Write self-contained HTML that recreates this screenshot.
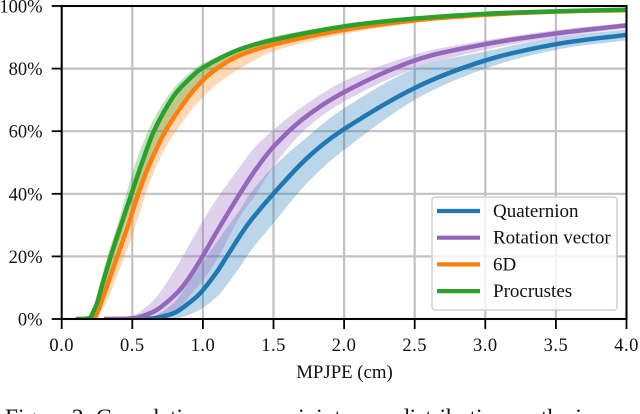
<!DOCTYPE html>
<html lang="en">
<head>
<meta charset="utf-8">
<title>MPJPE cumulative distribution</title>
<style>
html,body{margin:0;padding:0;background:#fff}
body{width:640px;height:414px;overflow:hidden;position:relative}
svg{display:block;position:absolute;left:0;top:0}
text{font-family:"Liberation Serif",serif;fill:#111}
#caption-clip{position:absolute;left:0;top:400px;width:640px;height:14px;overflow:hidden}
#caption{position:absolute;left:5px;top:3.6px;white-space:nowrap;font:23.4px/28px "Liberation Serif",serif;color:#111}
</style>
</head>
<body>
<svg id="chart" width="640" height="400" viewBox="0 0 640 400" xmlns="http://www.w3.org/2000/svg">
<defs><clipPath id="plot-clip"><rect x="61.7" y="6" width="564.8" height="313"/></clipPath></defs>
<g id="grid"></g>
<g id="series" clip-path="url(#plot-clip)"></g>
<g id="axes"></g>
<g id="legend"></g>
<text x="344.5" y="378" text-anchor="middle" font-size="18.8">MPJPE (cm)</text>
</svg>
<div id="caption-clip"><div id="caption">Figure 2: Cumulative error per joint error distribution on the in</div></div>
<script>
const xTicks = ['0.0','0.5','1.0','1.5','2.0','2.5','3.0','3.5','4.0'];
const yTicks = ['0%','20%','40%','60%','80%','100%'];
const legendLabels = ['Quaternion','Rotation vector','6D','Procrustes'];
const seriesColors = ['#1f77b4','#9467bd','#ff7f0e','#2ca02c'];

const quatX = [0.55,0.66,0.79,0.86,0.98,1.098,1.168,1.263,1.334,1.499,1.735,1.971,2.5,3.0,3.5,4.0];
const quatY = [0,0.3,1.8,3.7,8.2,15,19.9,26.6,31.2,40,51.3,59.8,73.8,82.6,87.8,90.8];
const quatLow = [0,0,0.2,0.7,3,7.1,10.8,16.7,21.5,30.6,43.3,53,70,80,86,89];
const quatHigh = [0,1,5,9,17,24.5,29,35,40,48.7,58,66.5,80,85.5,90,92.5];

const rotX = [0.3,0.5,0.555,0.673,0.814,0.9,1.003,1.1,1.263,1.37,1.499,1.711,2.0,2.5,3.0,3.5,4.0];
const rotY = [0,0.2,0.7,2.9,8.2,13,20.4,28,40.1,47.5,55,64,72.5,82.6,87.8,91.2,93.8];
const rotLow = [0,0,0.1,0.6,2.9,7,12.5,19,32.7,39.5,48.7,60,69.5,80,86,90,92.8];
const rotHigh = [0,1,2.3,7.1,16.7,23.5,31.6,38.5,48.7,55,60.4,68,76,84.5,89,92.3,94.6];

const sixDX = [0.2,0.235,0.255,0.319,0.394,0.467,0.55,0.625,0.739,0.897,1.003,1.098,1.25,1.5,2.0,2.5,3.0,3.5,4.0];
const sixDY = [0,0.4,2.3,10.3,20,29.5,41,49.8,60.4,71,76.4,80,84,87.7,92.4,95.4,97.2,98.2,98.7];
const sixDLow = [0,0.1,1,5.5,14,22.5,33.5,44,55,65.5,71,75,79.7,85.5,91,94.6,97,98,98.6];
const sixDHigh = [0,0.8,4,14.5,25,35.5,46.5,56,66,75.5,79.2,82,85.5,89,93.2,95.9,97.5,98.4,98.8];

const procX = [0.1,0.2,0.224,0.25,0.283,0.347,0.408,0.503,0.562,0.653,0.79,0.897,0.991,1.24,1.5,2.0,2.5,3.0,3.5,4.0];
const procY = [0,0.4,2.3,5,10.3,20,28.4,41.2,49,60,71,76.4,80,85.8,89.2,93.5,96,97.5,98.3,98.8];
const procLow = [0,0.2,1.2,3,7.5,16,24.5,37,44.5,54,65.5,72,76.5,84,88,93.1,95.8,97.4,98.2,98.7];
const procHigh = [0,0.8,3.5,7.5,13.5,23.5,32,47,54.5,64,73.5,78.3,81.5,86.4,90.2,94,96.3,97.7,98.5,98.9];

const X0 = 61.7, X1 = 626.5, Y0 = 319, Y1 = 6;
const NS = 'http://www.w3.org/2000/svg';
const sx = v => X0 + (v / 4) * (X1 - X0);
const sy = v => Y0 - (v / 100) * (Y0 - Y1);

function svgEl(tag, attrs, parent) {
  const el = document.createElementNS(NS, tag);
  for (const k in attrs) el.setAttribute(k, attrs[k]);
  parent.appendChild(el);
  return el;
}

function curve(pts, move) {
  let d = (move ? 'M' : 'L') + pts[0][0].toFixed(2) + ' ' + pts[0][1].toFixed(2);
  for (let i = 0; i < pts.length - 1; i++) {
    const p0 = pts[Math.max(i - 1, 0)], p1 = pts[i], p2 = pts[i + 1], p3 = pts[Math.min(i + 2, pts.length - 1)];
    const dx = p2[0] - p1[0];
    const m1 = (p2[1] - p0[1]) / (p2[0] - p0[0]);
    const m2 = (p3[1] - p1[1]) / (p3[0] - p1[0]);
    d += 'C' + (p1[0] + dx / 3).toFixed(2) + ' ' + (p1[1] + m1 * dx / 3).toFixed(2) + ' ' +
         (p2[0] - dx / 3).toFixed(2) + ' ' + (p2[1] - m2 * dx / 3).toFixed(2) + ' ' +
         p2[0].toFixed(2) + ' ' + p2[1].toFixed(2);
  }
  return d;
}

const gridG = document.getElementById('grid');
const axesG = document.getElementById('axes');
const seriesG = document.getElementById('series');
const legendG = document.getElementById('legend');

xTicks.forEach(t => {
  const px = sx(parseFloat(t));
  const gl = svgEl('line', {x1: px, x2: px, y1: Y1, y2: Y0, stroke: '#c2c2c2', 'stroke-width': 2.2}, gridG);
  
  
  const tk = svgEl('line', {x1: px, x2: px, y1: Y0, y2: Y0 + 10, stroke: '#000', 'stroke-width': 1.8}, axesG);
  
  
  const lb = svgEl('text', {x: px, y: 351, 'text-anchor': 'middle', 'font-size': 18.5, 'letter-spacing': 0.5}, axesG);
  lb.textContent = t;
  
  
});

yTicks.forEach(t => {
  const py = sy(parseFloat(t));
  const gl = svgEl('line', {x1: X0, x2: X1, y1: py, y2: py, stroke: '#c2c2c2', 'stroke-width': 2.2}, gridG);
  
  
  const tk = svgEl('line', {x1: X0 - 10, x2: X0, y1: py, y2: py, stroke: '#000', 'stroke-width': 1.8}, axesG);
  
  
  const lb = svgEl('text', {x: 42.5, y: py + 6.5, 'text-anchor': 'end', 'font-size': 18.5}, axesG);
  lb.textContent = t;
  
  
});

const allSeries = [
  [quatX, quatY, quatLow, quatHigh],
  [rotX, rotY, rotLow, rotHigh],
  [sixDX, sixDY, sixDLow, sixDHigh],
  [procX, procY, procLow, procHigh]
];

allSeries.forEach((s, i) => {
  const low = s[0].map((x, j) => [sx(x), sy(s[2][j])]);
  const high = s[0].map((x, j) => [sx(x), sy(s[3][j])]).reverse();
  const band = svgEl('path', {d: curve(low, true) + curve(high, false) + 'Z', fill: seriesColors[i], 'fill-opacity': 0.3}, seriesG);
  
  
});

allSeries.forEach((s, i) => {
  const mid = s[0].map((x, j) => [sx(x), sy(s[1][j])]);
  const line = svgEl('path', {d: curve(mid, true), fill: 'none', stroke: seriesColors[i], 'stroke-width': 4.5}, seriesG);
  
  
});

const spine = svgEl('rect', {x: X0, y: Y1, width: X1 - X0, height: Y0 - Y1, fill: 'none', stroke: '#000', 'stroke-width': 2}, axesG);



const box = svgEl('rect', {x: 432, y: 197, width: 185, height: 113, rx: 3, fill: '#fff', 'fill-opacity': 0.8, stroke: '#d0d0d0', 'stroke-width': 1.5}, legendG);



legendLabels.forEach((name, i) => {
  const ly = 211 + i * 26.7;
  const sw = svgEl('line', {x1: 437, x2: 480, y1: ly, y2: ly, stroke: seriesColors[i], 'stroke-width': 4.2}, legendG);
  
  
  const tx = svgEl('text', {x: 493, y: ly + 6, 'font-size': 19}, legendG);
  tx.textContent = name;
  
  
});
</script>
</body>
</html>
